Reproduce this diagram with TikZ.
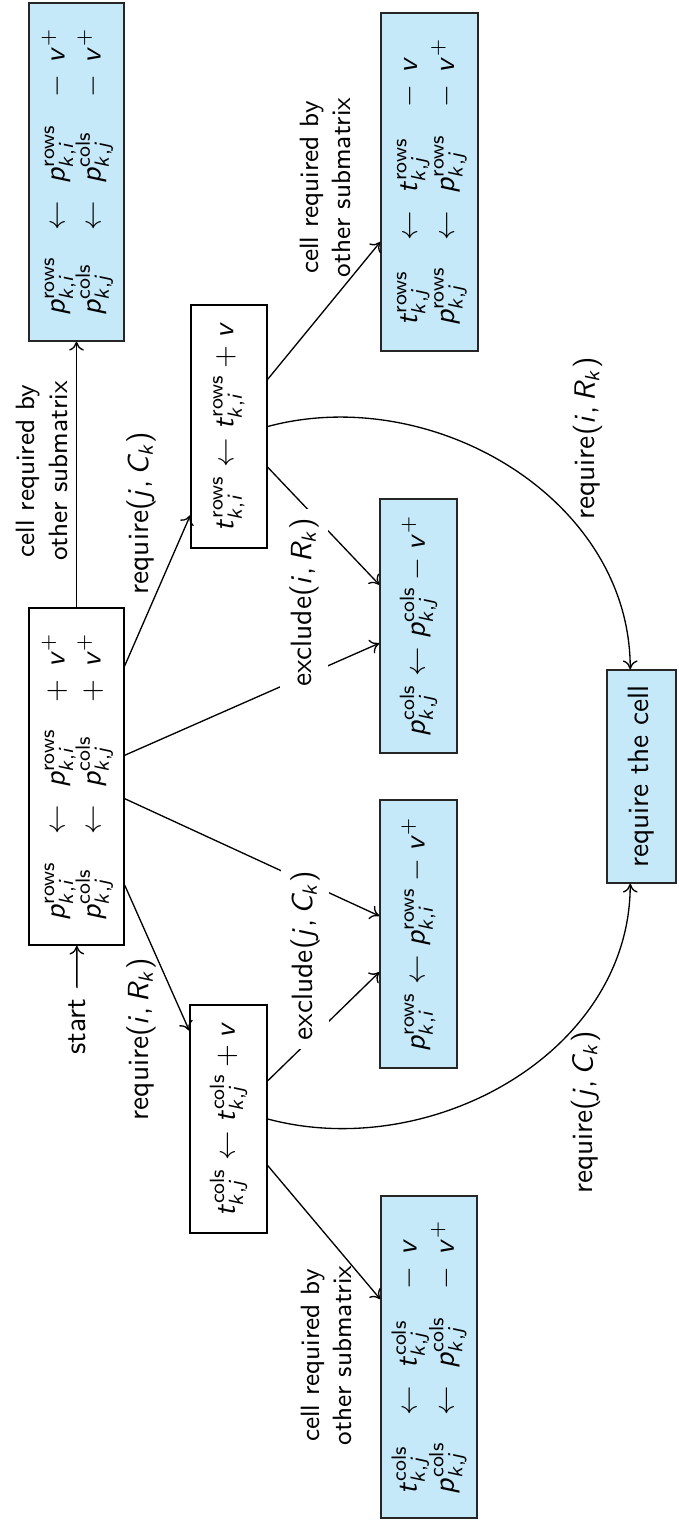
\documentclass[tikz,border=0pt]{standalone}
\usetikzlibrary{arrows.meta}
\DeclareSymbolFont{operators}{OT1}{cmss}{m}{n}
\DeclareSymbolFont{letters}{OT1}{cmss}{m}{sl}
\DeclareMathSymbol{,}{\mathpunct}{operators}{"2C}
\definecolor{cellblue}{RGB}{198,233,250}
\newcommand{\myR}{\mathrm{rows}}
\newcommand{\myC}{\mathrm{cols}}
\newcommand{\tworows}[8]{$\begin{array}{@{}l@{\hspace{9pt}}c@{\hspace{6pt}}l@{\hspace{9pt}}c@{\hspace{4pt}}l@{}}#1 & \leftarrow & #2 & #3 & #4\\ #5 & \leftarrow & #6 & #7 & #8\end{array}$\hspace{3.3pt}}
\begin{document}
\begin{tikzpicture}[x=0.34pt, y=0.34pt, rotate=90, transform shape,
  box/.style={draw=black, line width=0.5pt, inner sep=0pt, font=\sffamily},
  bluebox/.style={box, fill=cellblue, draw=black!85},
  whitebox/.style={box, fill=white},
  lbl/.style={font=\sffamily, inner sep=0pt},
  xlbl/.style={font=\sffamily, fill=white, inner sep=3pt},
  clbl/.style={font=\sffamily\small, align=center, inner sep=0pt},
  startlbl/.style={font=\sffamily},
  arr/.style={-{To[length=3pt,width=5pt]}, line width=0.45pt}]
\useasboundingbox (0,0) rectangle (1521,678);
% boxes
\node[bluebox, minimum width=338*0.34pt, minimum height=95*0.34pt] (A1) at (1349,601.5)
  {\tworows{p^{\myR}_{k,i}}{p^{\myR}_{k,i}}{-}{v^{+}}{p^{\myC}_{k,j}}{p^{\myC}_{k,j}}{-}{v^{+}}};
\node[whitebox, minimum width=337*0.34pt, minimum height=95*0.34pt] (R) at (744.5,601.5)
  {\tworows{p^{\myR}_{k,i}}{p^{\myR}_{k,i}}{+}{v^{+}}{p^{\myC}_{k,j}}{p^{\myC}_{k,j}}{+}{v^{+}}};
\node[bluebox, minimum width=338*0.34pt, minimum height=97*0.34pt] (A2) at (1339,248.5)
  {\tworows{t^{\myR}_{k,j}}{t^{\myR}_{k,j}}{-}{v}{p^{\myR}_{k,j}}{p^{\myR}_{k,j}}{-}{v^{+}}};
\node[bluebox, minimum width=322*0.34pt, minimum height=96*0.34pt] (B1) at (164,249)
  {\tworows{t^{\myC}_{k,j}}{t^{\myC}_{k,j}}{-}{v}{p^{\myC}_{k,j}}{p^{\myC}_{k,j}}{-}{v^{+}}};
\node[bluebox, minimum width=268*0.34pt, minimum height=77*0.34pt] (B2) at (587,259.5)
  {$p^{\myR}_{k,i} \leftarrow p^{\myR}_{k,i} - v^{+}$\hspace{3.3pt}};
\node[bluebox, minimum width=254*0.34pt, minimum height=77*0.34pt] (B3) at (895,259.5)
  {$p^{\myC}_{k,j} \leftarrow p^{\myC}_{k,j} - v^{+}$\hspace{3.3pt}};
\node[whitebox, minimum width=228*0.34pt, minimum height=77*0.34pt] (Tc) at (402,449.5)
  {$t^{\myC}_{k,j} \leftarrow t^{\myC}_{k,j} + v$\hspace{3.3pt}};
\node[whitebox, minimum width=243*0.34pt, minimum height=76*0.34pt] (Tr) at (1094.5,449)
  {$t^{\myR}_{k,i} \leftarrow t^{\myR}_{k,i} + v$\hspace{3.3pt}};
\node[bluebox, minimum width=213*0.34pt, minimum height=69*0.34pt] (C) at (744.5,36.5)
  {require the cell\hspace{3.3pt}};
\node[startlbl] (start) at (494.5,601) {start};
% connectors
\draw[arr] (start) -- (R);
\draw[arr] (R) -- (A1);
\draw[arr] (R) -- (Tr);
\draw[arr] (R) -- (Tc);
\draw[arr] (Tc) -- (B1);
\draw[arr] (Tr) -- (A2);
\draw[arr] (R) -- (B2);
\draw[arr] (Tc) -- (B2);
\draw[arr] (R) -- (B3);
\draw[arr] (Tr) -- (B3);
\draw[arr] (Tc.south) to[out=-105, in=180] (C.174);
\draw[arr] (Tr.south) to[out=-75, in=0] (C.6);
% labels
\node[clbl] (lA1) at (1050,636) {cell required by\\other submatrix};
\node[clbl] (lB1) at (165.5,351.5) {cell required by\\other submatrix};
\node[clbl] (lA2) at (1333.5,352.5) {cell required by\\other submatrix};
\node[lbl] (lTr) at (1008,537) {require$(j, C_k)$};
\node[lbl] (lTc) at (482,537) {require$(i, R_k)$};
\node[xlbl] (lXj) at (565.5,373) {exclude$(j, C_k)$};
\node[xlbl] (lXi) at (918.5,374) {exclude$(i, R_k)$};
\node[lbl] (lCj) at (408.5,92.5) {require$(j, C_k)$};
\node[lbl] (lCi) at (1082.5,90.5) {require$(i, R_k)$};
\end{tikzpicture}
\end{document}
